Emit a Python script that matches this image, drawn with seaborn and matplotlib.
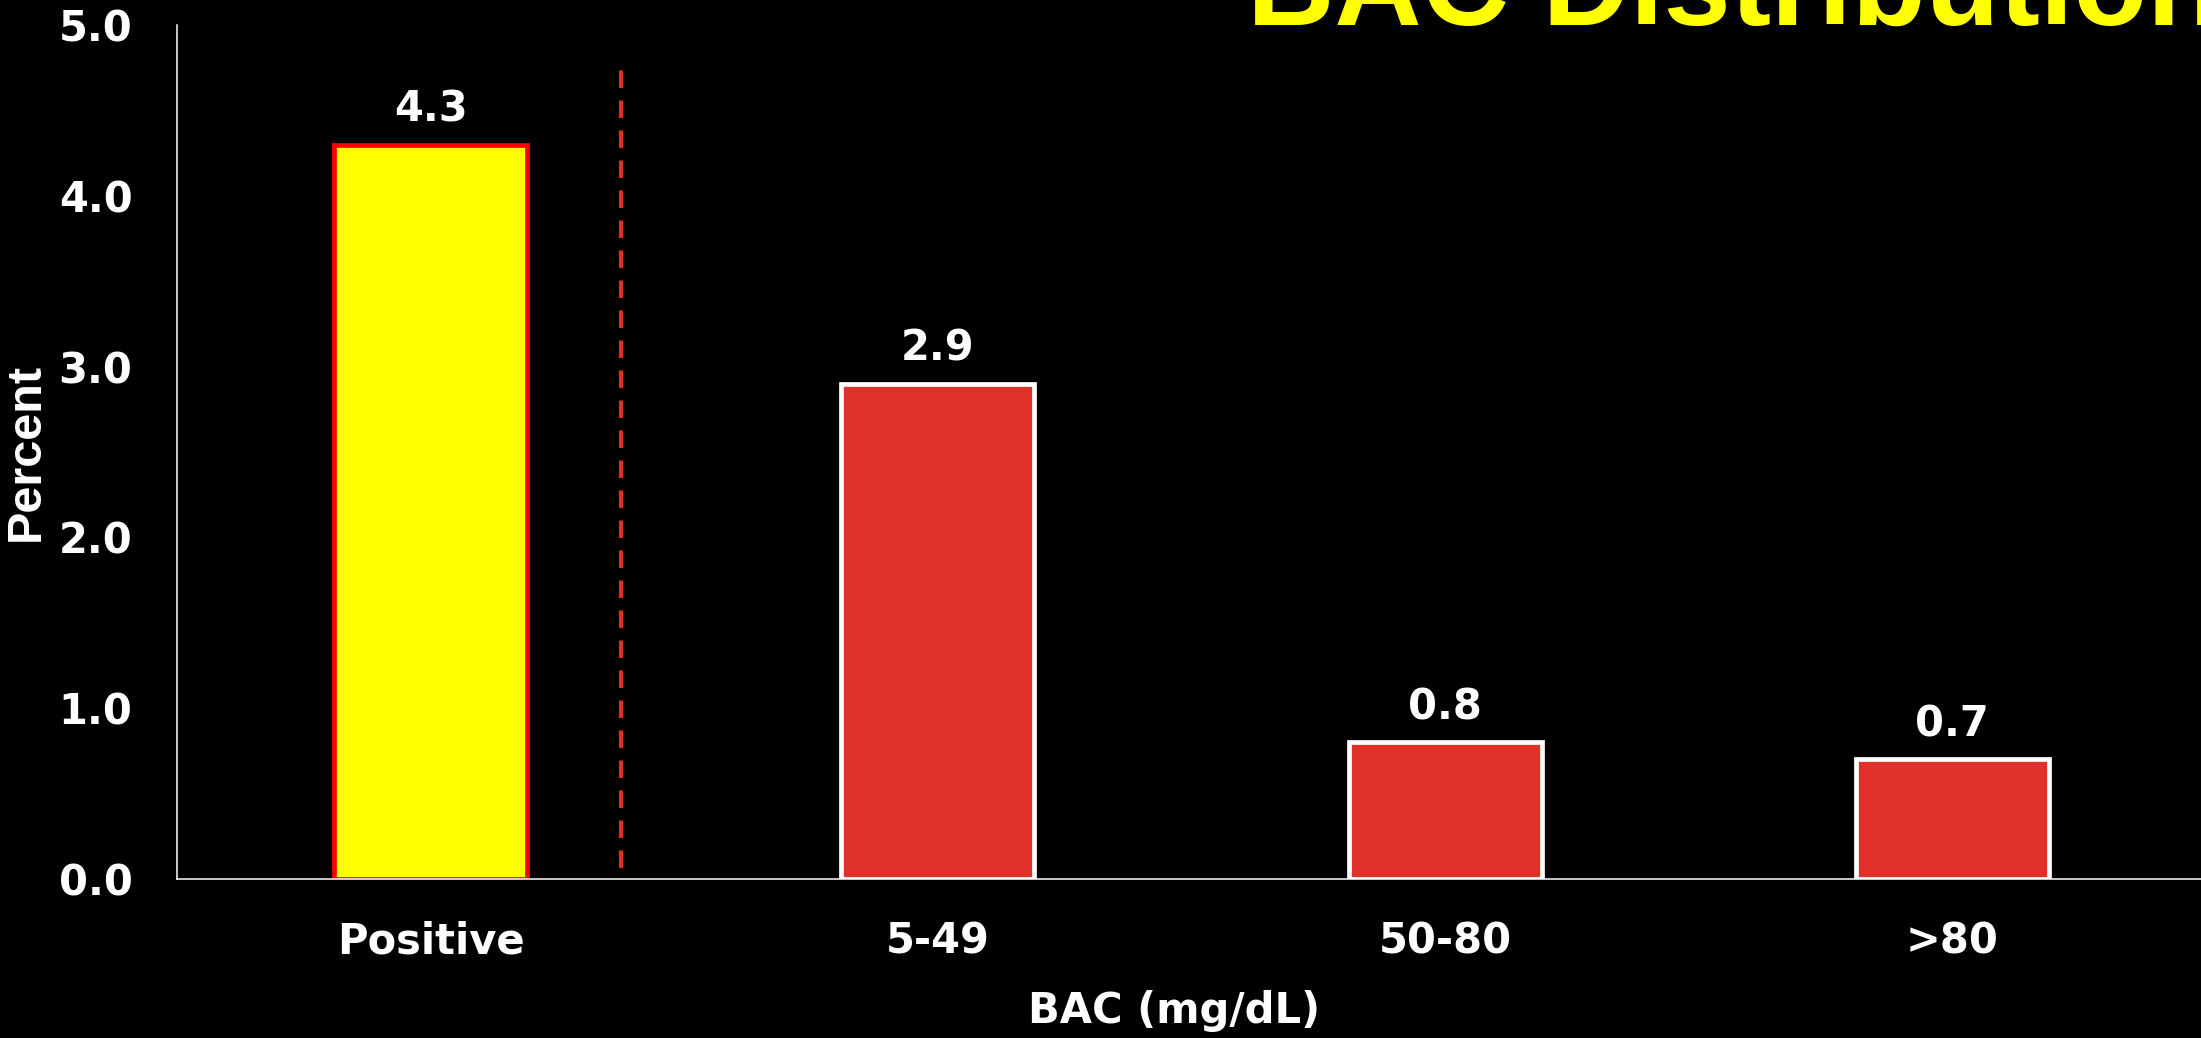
import pandas as pd
import matplotlib.pyplot as plt
import seaborn as sns

categories = ["Positive", "5-49", "50-80", ">80"]
percent = [4.3, 2.9, 0.8, 0.7]
fill_colors = ["#FFFF00", "#E0302A", "#E0302A", "#E0302A"]
edge_colors = ["#FF0000", "#FFFFFF", "#FFFFFF", "#FFFFFF"]
y_ticks = [0.0, 1.0, 2.0, 3.0, 4.0, 5.0]

df = pd.DataFrame({"cat": categories, "pct": percent})

sns.set_theme(style="white")
plt.rcParams["font.family"] = ["DejaVu Sans"]

fig = plt.figure(figsize=(22.01, 10.38), dpi=100, facecolor="black")
ax = fig.add_axes([0.0804, 0.1532, 0.9196, 0.8227])
ax.set_facecolor("black")

sns.barplot(x="cat", y="pct", data=df, hue="cat", palette=fill_colors,
            saturation=1, legend=False, width=0.38, ax=ax)
for patch, ec in zip(ax.patches, edge_colors):
    patch.set_edgecolor(ec)
    patch.set_linewidth(3.4)

for cont in ax.containers:
    ax.bar_label(cont, fmt="%.1f", padding=10, color="white",
                 fontsize=30, fontweight="bold")

# separator between total and breakdown
ax.axvline(0.375, ymin=0.013, ymax=0.958, color="#D9302B", lw=3,
           dashes=(4.2, 3.0))

ax.set_xlim(-0.5, 3.49)
ax.set_ylim(0, 5)
ax.set_yticks(y_ticks)
ax.set_yticklabels([f"{v:.1f}" for v in y_ticks])
ax.tick_params(axis="both", length=0, colors="white", labelsize=30)
ax.tick_params(axis="x", pad=30)
ax.tick_params(axis="y", pad=32)
for lab in ax.get_xticklabels() + ax.get_yticklabels():
    lab.set_fontweight("bold")

for side in ["top", "right"]:
    ax.spines[side].set_visible(False)
for side in ["left", "bottom"]:
    ax.spines[side].set_color("white")
    ax.spines[side].set_linewidth(1.1)

ax.set_xlabel("BAC (mg/dL)", color="white", fontsize=30, fontweight="bold")
ax.xaxis.set_label_coords(0.4926, -0.1546)
ax.xaxis.label.set_verticalalignment("center")
ax.set_ylabel("Percent", color="white", fontsize=35, fontweight="bold",
              family=["Liberation Sans"])
ax.yaxis.set_label_coords(-0.0745, 0.5)
ax.yaxis.label.set_verticalalignment("center")

fig.text(0.5666, 0.976, "BAC Distribution", color="#FFFF00", fontsize=87,
         fontweight="bold", family=["Liberation Sans"], ha="left", va="baseline")

fig.savefig("out.png", dpi=100, facecolor="black")
